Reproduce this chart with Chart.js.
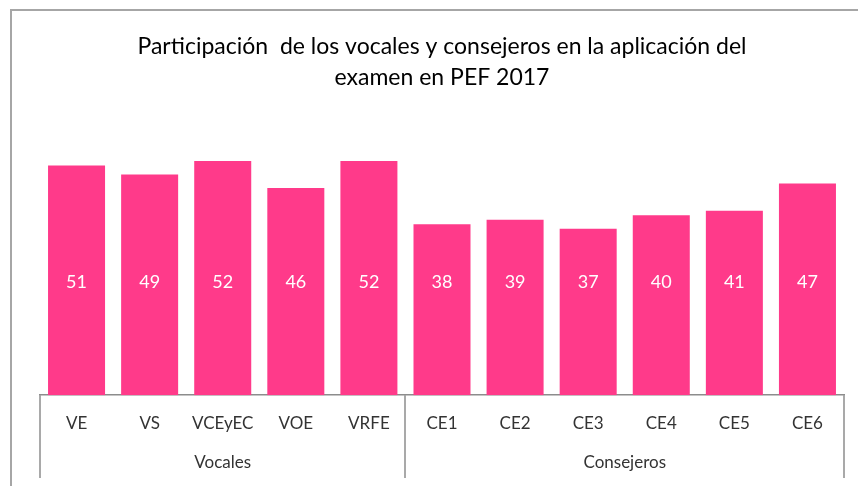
<!DOCTYPE html>
<html>
<head>
<meta charset="utf-8">
<script src="https://cdn.jsdelivr.net/npm/chart.js@4"></script>
<style>
  html, body { margin: 0; padding: 0; background: #fff; }
  #wrap { position: relative; width: 858px; height: 486px; overflow: hidden; }
  #frame { position: absolute; left: 10px; top: 9px; width: 900px; height: 520px; border: 2px solid #a6a6a6; box-sizing: border-box; }
  canvas { position: absolute; left: 0; top: 0; }
</style>
</head>
<body>
<div id="wrap">
  <div id="frame"></div>
  <canvas id="chart" width="858" height="486"></canvas>
</div>
<script>
const categories = ['VE', 'VS', 'VCEyEC', 'VOE', 'VRFE', 'CE1', 'CE2', 'CE3', 'CE4', 'CE5', 'CE6'];
const values = [51, 49, 52, 46, 52, 38, 39, 37, 40, 41, 47];
const groupNames = ['Vocales', 'Consejeros'];
const groupSizes = [5, 6];

const FONT = 'Lato, "Open Sans", sans-serif';
const LINE = '#8c8c8c';

// group boundaries and centres, in category units
const boundaries = [0];
const groupCenters = [];
let start = 0;
groupSizes.forEach(n => {
  groupCenters.push(start + n / 2);
  start += n;
  boundaries.push(start);
});

// white value labels inside the bars
const barLabels = {
  id: 'barLabels',
  afterDatasetsDraw(chart) {
    const ctx = chart.ctx;
    const meta = chart.getDatasetMeta(0);
    const y = chart.scales.y.getPixelForValue(25);
    ctx.save();
    ctx.fillStyle = '#ffffff';
    ctx.font = '18px ' + FONT;
    ctx.textAlign = 'center';
    ctx.textBaseline = 'middle';
    meta.data.forEach((bar, i) => {
      ctx.fillText(String(values[i]), bar.x, y);
    });
    ctx.restore();
  }
};

// vertical separators of the two-level category axis
const groupLines = {
  id: 'groupLines',
  afterDraw(chart) {
    const xs = chart.scales.x;
    const gs = chart.scales.x2;
    const ctx = chart.ctx;
    ctx.save();
    ctx.strokeStyle = LINE;
    ctx.lineWidth = 1.5;
    boundaries.forEach(b => {
      const px = Math.round(xs.getPixelForValue(b - 0.5));
      ctx.beginPath();
      ctx.moveTo(px, xs.top);
      ctx.lineTo(px, gs.bottom);
      ctx.stroke();
    });
    ctx.restore();
  }
};

new Chart(document.getElementById('chart'), {
  type: 'bar',
  data: {
    labels: categories,
    datasets: [{
      data: values,
      backgroundColor: '#ff3a8a',
      borderWidth: 0,
      categoryPercentage: 0.78,
      barPercentage: 1
    }]
  },
  options: {
    responsive: false,
    animation: false,
    layout: { padding: { left: 40, right: 14, top: 21, bottom: 8 } },
    plugins: {
      legend: { display: false },
      tooltip: { enabled: false },
      title: {
        display: true,
        text: ['Participación  de los vocales y consejeros en la aplicación del', 'examen en PEF 2017'],
        color: '#000',
        font: { family: FONT, size: 23, weight: 'normal', lineHeight: 1.35 },
        padding: { top: 10, bottom: 32 }
      }
    },
    scales: {
      y: { display: false, min: 0, max: 60 },
      x: {
        position: 'bottom',
        weight: 0,
        border: { display: true, color: LINE, width: 1.5 },
        grid: { display: false, drawTicks: false },
        ticks: { color: '#333', font: { family: FONT, size: 17 }, padding: 18, maxRotation: 0, autoSkip: false }
      },
      x2: {
        type: 'linear',
        position: 'bottom',
        weight: 1,
        offset: false,
        min: 0,
        max: categories.length,
        border: { display: false },
        grid: { display: false, drawTicks: false, offset: false },
        afterBuildTicks: scale => { scale.ticks = groupCenters.map(v => ({ value: v })); },
        afterFit: scale => { scale.height += 4; },
        ticks: {
          color: '#333',
          font: { family: FONT, size: 17 },
          padding: 1,
          maxRotation: 0,
          autoSkip: false,
          callback: v => groupNames[groupCenters.indexOf(v)]
        }
      }
    }
  },
  plugins: [barLabels, groupLines]
});
</script>
</body>
</html>
